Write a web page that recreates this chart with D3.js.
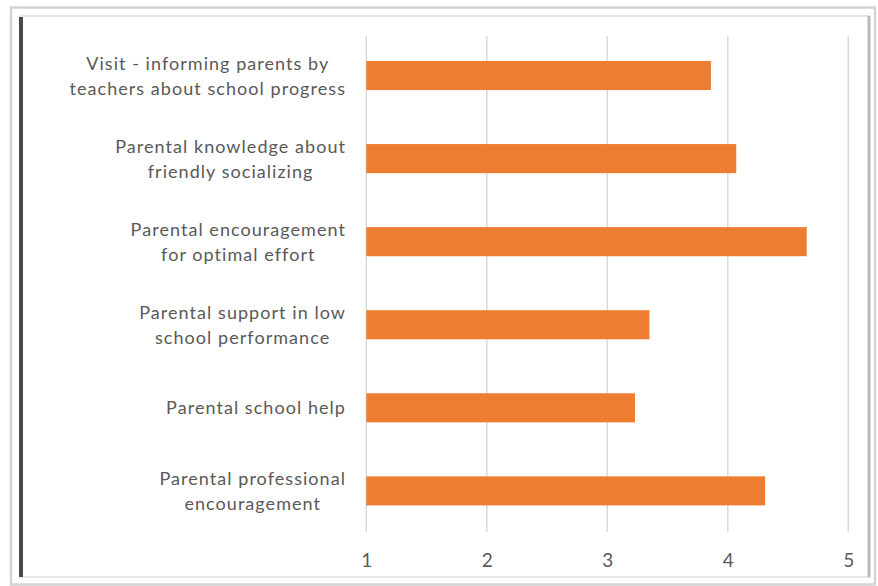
<!DOCTYPE html>
<html>
<head>
<meta charset="utf-8">
<script src="https://cdn.jsdelivr.net/npm/d3@7"></script>
<style>
  html, body { margin: 0; padding: 0; background: #fff; }
  svg { display: block; }
</style>
</head>
<body>
<svg id="chart" width="878" height="586"></svg>
<script>
// Categories (top to bottom), each as lines of its wrapped label
const categories = [
  ["Visit - informing parents by", "teachers about school progress"],
  ["Parental knowledge about", "friendly socializing"],
  ["Parental encouragement", "for optimal effort"],
  ["Parental support in low", "school performance"],
  ["Parental school help"],
  ["Parental professional", "encouragement"]
];
const values = [3.86, 4.07, 4.655, 3.35, 3.23, 4.31];
const tickValues = [1, 2, 3, 4, 5];
const tickLabels = ["1", "2", "3", "4", "5"];

const svg = d3.select("#chart");

// Frame
svg.append("rect").attr("x", 11).attr("y", 7.5).attr("width", 864).attr("height", 577)
  .attr("fill", "#fff").attr("stroke", "#d4d4d4").attr("stroke-width", 2.5);
svg.append("rect").attr("x", 20).attr("y", 16).attr("width", 849).attr("height", 561)
  .attr("fill", "#fff").attr("stroke", "#e6e6e6").attr("stroke-width", 2);
svg.append("line").attr("x1", 869).attr("x2", 869).attr("y1", 16).attr("y2", 577)
  .attr("stroke", "#b8b8b8").attr("stroke-width", 3);
svg.append("line").attr("x1", 21).attr("x2", 21).attr("y1", 17).attr("y2", 577)
  .attr("stroke", "#4a4a4a").attr("stroke-width", 4);

const x = d3.scaleLinear().domain([1, 5]).range([366.3, 848.3]);
const y = d3.scaleBand().domain(d3.range(categories.length)).range([34, 532.4]).paddingInner(0.65).paddingOuter(0.325);

// Gridlines
svg.append("g").selectAll("line").data(tickValues).join("line")
  .attr("x1", d => x(d)).attr("x2", d => x(d))
  .attr("y1", 36).attr("y2", 532)
  .attr("stroke", "#d9d9d9").attr("stroke-width", 1.5);

// Bars
svg.append("g").selectAll("rect").data(values).join("rect")
  .attr("x", x(1))
  .attr("y", (d, i) => y(i))
  .attr("width", d => x(d) - x(1))
  .attr("height", y.bandwidth())
  .attr("fill", "#ED7D31");

// X axis tick labels
const xAxis = d3.axisBottom(x).tickValues(tickValues).tickFormat((d, i) => tickLabels[i]).tickSize(0).tickPadding(0);
const gx = svg.append("g").attr("transform", "translate(0,553)").call(xAxis);
gx.select(".domain").remove();
gx.selectAll("text").attr("font-family", "Lato, 'Open Sans', sans-serif")
  .attr("font-size", 19).attr("fill", "#595959").attr("dy", "0.76em");

// Category labels (block right-aligned, lines centered)
const rightEdge = 346;
const lineH = 25;
const lg = svg.append("g").attr("font-family", "Lato, 'Open Sans', sans-serif")
  .attr("font-size", 18).attr("letter-spacing", "1.05px").attr("fill", "#595959");
categories.forEach((lines, i) => {
  const cy = y(i) + y.bandwidth() / 2;
  const texts = lines.map((ln, j) => lg.append("text")
    .attr("y", cy + (j - (lines.length - 1) / 2) * lineH + 6.5)
    .attr("text-anchor", "middle")
    .text(ln));
  const maxW = d3.max(texts, t => t.node().getComputedTextLength());
  texts.forEach(t => t.attr("x", rightEdge - maxW / 2));
});
</script>
</body>
</html>
